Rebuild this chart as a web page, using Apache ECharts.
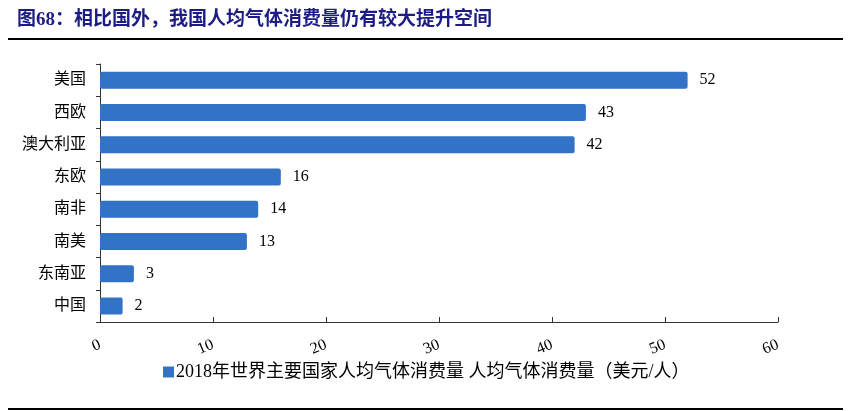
<!DOCTYPE html>
<html>
<head>
<meta charset="utf-8">
<script src="https://cdn.jsdelivr.net/npm/echarts@6/dist/echarts.min.js"></script>
<style>
html,body{margin:0;padding:0;background:#fff;}
#main{width:849px;height:411px;}
</style>
</head>
<body>
<div id="main"></div>
<script>
// 图68 人均气体消费量
var titleText = '图68：相比国外，我国人均气体消费量仍有较大提升空间';
var legendName = '2018年世界主要国家人均气体消费量 人均气体消费量（美元/人）';
var regions = ['美国', '西欧', '澳大利亚', '东欧', '南非', '南美', '东南亚', '中国'];
var values = [52, 43, 42, 16, 14, 13, 3, 2];
var xTicks = [0, 10, 20, 30, 40, 50, 60];

var serif = '"Liberation Serif", "Noto Sans CJK SC", serif';
var myChart = echarts.init(document.getElementById('main'));
var option = {
	backgroundColor: '#fff',
	animation: false,
	title: {
		text: titleText,
		left: 12,
		top: 6,
		textStyle: {
			fontFamily: '"Liberation Serif", "Noto Sans CJK SC"',
			fontSize: 19,
			fontWeight: 'bold',
			color: '#1c1c84'
		}
	},
	graphic: [
		{ type: 'line', shape: { x1: 8, y1: 39, x2: 843, y2: 39 }, style: { stroke: '#000', lineWidth: 2 } },
		{ type: 'line', shape: { x1: 8, y1: 409, x2: 843, y2: 409 }, style: { stroke: '#000', lineWidth: 2 } }
	],
	legend: {
		data: [legendName],
		left: 158,
		top: 358,
		itemWidth: 11,
		itemHeight: 11,
		itemGap: 4,
		icon: 'rect',
		textStyle: { fontFamily: serif, fontSize: 18, color: '#000', padding: [0, 0, 0, -3] }
	},
	grid: { left: 100, right: 71, top: 64, bottom: 89 },
	xAxis: {
		type: 'value',
		min: xTicks[0],
		max: xTicks[xTicks.length - 1],
		interval: 10,
		splitLine: { show: false },
		axisLine: { show: true, lineStyle: { color: '#333', width: 1 } },
		axisTick: { show: true, inside: true, length: 5, lineStyle: { color: '#333' } },
		axisLabel: { rotate: 22, margin: 22, fontFamily: serif, fontSize: 16, color: '#000' }
	},
	yAxis: {
		type: 'category',
		data: regions,
		inverse: true,
		axisLine: { show: true, lineStyle: { color: '#333', width: 1 } },
		axisTick: { show: true, length: 4, lineStyle: { color: '#333' } },
		axisLabel: { margin: 14, fontFamily: serif, fontSize: 16, color: '#000' }
	},
	series: [{
		name: legendName,
		type: 'bar',
		data: values,
		barWidth: 17,
		itemStyle: { color: '#3273c5', borderRadius: 2 },
		label: {
			show: true,
			position: 'right',
			distance: 12,
			fontFamily: serif,
			fontSize: 16,
			color: '#000'
		}
	}]
};
myChart.setOption(option);
</script>
</body>
</html>
